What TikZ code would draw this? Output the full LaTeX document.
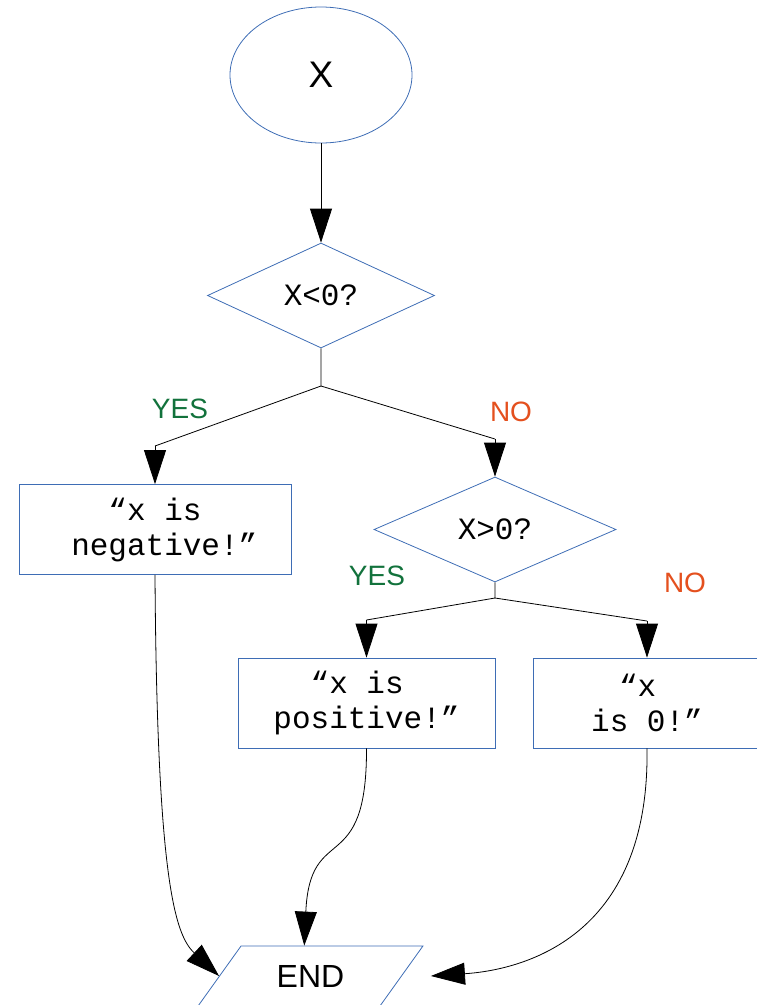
\documentclass[tikz,border=0pt]{standalone}
\usepackage{fontspec}
\setmainfont{Liberation Sans}
\setmonofont{Liberation Mono}
\usepackage{tikz}
\usetikzlibrary{arrows.meta,shapes.geometric}
\definecolor{fb}{HTML}{3E6DB5}
\definecolor{yc}{HTML}{12723C}
\definecolor{nc}{HTML}{E4501E}
\newcommand{\monotxt}{\ttfamily\fontsize{31}{35}\selectfont}

\begin{document}
\begin{tikzpicture}[
    x=1pt, y=-1pt,
    ln/.style={line width=0.8pt},
    arr/.style={ln, -{Triangle[length=34pt,width=22pt]}},
    startb/.style={ellipse, draw=fb, line width=0.8pt, inner sep=0pt,
                   minimum width=182pt, minimum height=136pt,
                   font=\fontsize{37}{40}\selectfont},
    decide/.style={diamond, draw=fb, line width=0.8pt, inner sep=0pt,
                   minimum height=105pt, font=\monotxt},
    outb/.style={rectangle, draw=fb, line width=0.8pt, inner sep=0pt,
                 minimum height=90pt, align=center, font=\monotxt},
    endb/.style={trapezium, draw=fb, line width=0.8pt, inner sep=0pt,
                 trapezium left angle=46.5, trapezium right angle=133.5,
                 trapezium stretches=true, minimum width=225pt, minimum height=60pt,
                 font=\fontsize{32}{34}\selectfont},
    yes/.style={text=yc, font=\fontsize{28}{30}\selectfont},
    no/.style={text=nc, font=\fontsize{28}{30}\selectfont}
]
\useasboundingbox (0,0) rectangle (756,1005);

\node[startb] (start) at (321,75) {X};
\node[decide, minimum width=227pt] (q1) at (321,295.5) {X<0?};
\node[outb, minimum width=272pt] (neg) at (155,529.5) {“x is\\\phantom{x}negative!”};
\node[decide, minimum width=242pt] (q2) at (495,529.5) {X>0?};
\node[outb, minimum width=257pt] (pos) at (366.5,703) {“x is\phantom{x}\\positive!”};
\node[outb, minimum width=228pt] (zero) at (647,703) {“x\phantom{x}\\is 0!”};
\node[endb] (end) at (310.5,976) {END};

\node[yes] at (180,409) {YES};
\node[no]  at (511,412) {NO};
\node[yes] at (377,576) {YES};
\node[no]  at (685,583) {NO};

\coordinate (j1)  at (321,386);
\coordinate (j1L) at (155,446);
\coordinate (j1R) at (495,439);
\coordinate (j2)  at (495,598);
\coordinate (j2L) at (366.5,620);
\coordinate (j2R) at (647,621);
\coordinate (endT) at ([xshift=-28pt]end.top side);
\coordinate (endR) at ([xshift=29pt]end.right side);

\draw[arr] (start.south) -- (q1.north);
\draw[ln] (q1.south) -- (j1) -- (j1L);
\draw[ln] (j1) -- (j1R);
\draw[arr] (j1L) -- (neg.north);
\draw[arr] (j1R) -- (q2.north);
\draw[ln] (q2.south) -- (j2) -- (j2L);
\draw[ln] (j2) -- (j2R);
\draw[arr] (j2L) -- (pos.north);
\draw[arr] (j2R) -- (zero.north);

\draw[arr] (neg.south) .. controls (157,880) and (175,935) .. (end.left side);
\draw[arr] (pos.south) .. controls (367,880) and (310,820) .. (endT);
\draw[arr] (zero.south) .. controls (650,940) and (520,970) .. (endR);
\end{tikzpicture}
\end{document}
